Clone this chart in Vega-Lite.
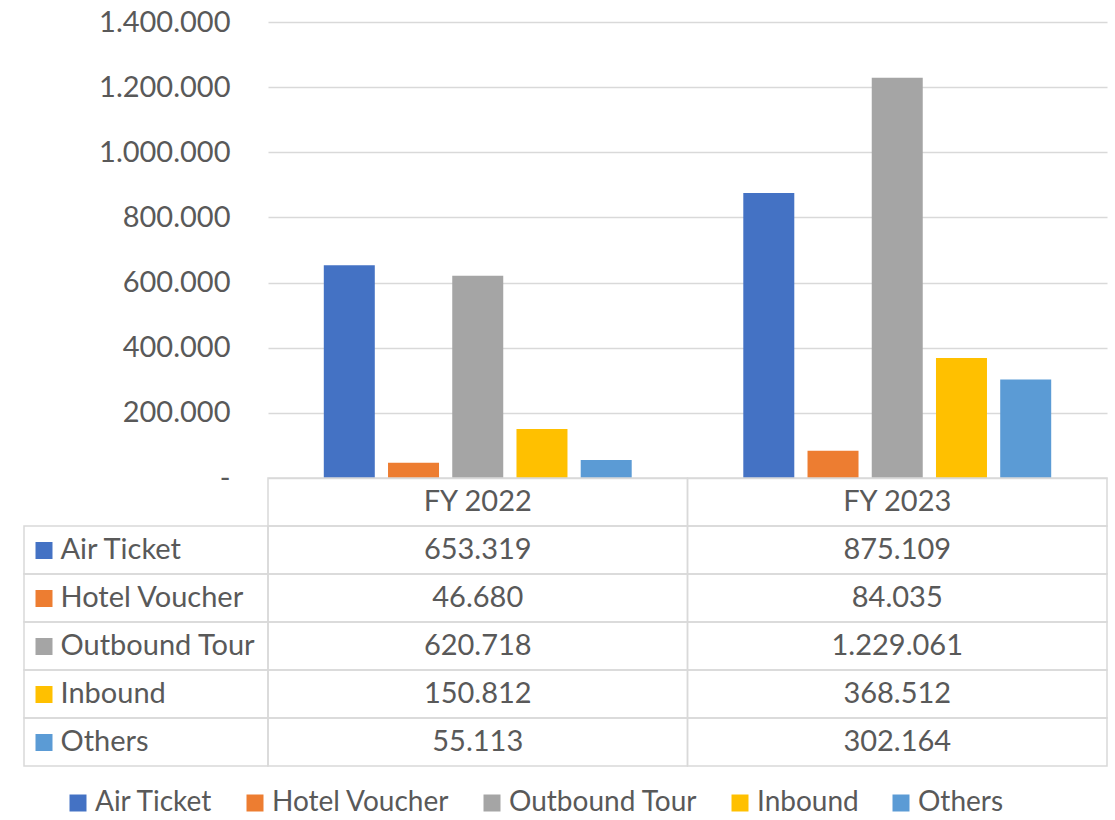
{
  "$schema": "https://vega.github.io/schema/vega-lite/v6.json",
  "padding": {"left": 23, "top": 8, "right": 5, "bottom": 0},
  "config": {
    "font": "Lato",
    "locale": {"number": {"decimal": ",", "thousands": ".", "grouping": [3], "currency": ["", ""]}},
    "view": {"stroke": null}
  },
  "datasets": {
    "sales": [
      {"year": "FY 2022", "series": "Air Ticket", "value": 653319},
      {"year": "FY 2022", "series": "Hotel Voucher", "value": 46680},
      {"year": "FY 2022", "series": "Outbound Tour", "value": 620718},
      {"year": "FY 2022", "series": "Inbound", "value": 150812},
      {"year": "FY 2022", "series": "Others", "value": 55113},
      {"year": "FY 2023", "series": "Air Ticket", "value": 875109},
      {"year": "FY 2023", "series": "Hotel Voucher", "value": 84035},
      {"year": "FY 2023", "series": "Outbound Tour", "value": 1229061},
      {"year": "FY 2023", "series": "Inbound", "value": 368512},
      {"year": "FY 2023", "series": "Others", "value": 302164}
    ]
  },
  "columns": 2,
  "spacing": 0,
  "bounds": "flush",
  "align": "each",
  "resolve": {
    "scale": {"x": "independent", "y": "independent", "color": "independent"},
    "axis": {"x": "independent", "y": "independent"},
    "legend": {"color": "independent"}
  },
  "concat": [
    {
      "width": 244,
      "height": 456,
      "data": {"values": []},
      "mark": "text",
      "encoding": {}
    },
    {
      "width": 839,
      "height": 456,
      "data": {"name": "sales"},
      "mark": {"type": "bar"},
      "encoding": {
        "x": {"field": "year", "type": "nominal", "scale": {"paddingInner": 0.266, "paddingOuter": 0.133}, "axis": null},
        "xOffset": {"field": "series", "type": "nominal", "sort": ["Air Ticket", "Hotel Voucher", "Outbound Tour", "Inbound", "Others"], "scale": {"paddingInner": 0.206, "paddingOuter": 0}},
        "y": {
          "field": "value", "type": "quantitative",
          "scale": {"domain": [0, 1400000], "nice": false},
          "axis": {
            "values": [0, 200000, 400000, 600000, 800000, 1000000, 1200000, 1400000],
            "format": ",.0f",
            "labelExpr": "datum.value === 0 ? '-' : datum.label",
            "grid": true, "gridColor": "#d9d9d9", "gridWidth": 1.5,
            "domain": false, "ticks": false,
            "labelPadding": 38, "labelFontSize": 29, "labelColor": "#595959",
            "title": null
          }
        },
        "color": {
          "field": "series", "type": "nominal",
          "scale": {
            "domain": ["Air Ticket", "Hotel Voucher", "Outbound Tour", "Inbound", "Others"],
            "range": ["#4472C4", "#ED7D31", "#A5A5A5", "#FFC000", "#5B9BD5"]
          },
          "legend": {
            "orient": "none", "direction": "horizontal",
            "legendX": -204, "legendY": 767,
            "title": null,
            "symbolType": "square", "symbolSize": 289, "symbolStrokeWidth": 0,
            "labelFontSize": 28, "labelColor": "#595959", "labelOffset": 3,
            "columnPadding": 28, "labelLimit": 400
          }
        }
      }
    },
    {
      "width": 244,
      "height": 288,
      "data": {"name": "sales"},
      "transform": [{"filter": "datum.year === 'FY 2022'"}],
      "mark": {"type": "rect", "fill": "transparent", "stroke": "#d9d9d9", "strokeWidth": 1.5},
      "encoding": {
        "y": {
          "field": "series", "type": "nominal",
          "scale": {"domain": ["hdr", "Air Ticket", "Hotel Voucher", "Outbound Tour", "Inbound", "Others"], "paddingInner": 0, "paddingOuter": 0},
          "axis": {
            "orient": "left", "domain": false, "grid": false,
            "offset": -11,
            "ticks": true, "tickSize": -17, "tickWidth": 17, "tickCap": "butt",
            "tickColor": {
              "condition": [
                {"test": "datum.value === 'Air Ticket'", "value": "#4472C4"},
                {"test": "datum.value === 'Hotel Voucher'", "value": "#ED7D31"},
                {"test": "datum.value === 'Outbound Tour'", "value": "#A5A5A5"},
                {"test": "datum.value === 'Inbound'", "value": "#FFC000"},
                {"test": "datum.value === 'Others'", "value": "#5B9BD5"}
              ],
              "value": "transparent"
            },
            "labelExpr": "datum.value === 'hdr' ? '' : datum.value",
            "labelAlign": "left", "labelBaseline": "middle",
            "labelPadding": -8, "labelFontSize": 29, "labelColor": "#595959", "labelLimit": 400,
            "title": null
          }
        }
      }
    },
    {
      "width": 839,
      "height": 288,
      "data": {"name": "sales"},
      "encoding": {
        "x": {"field": "year", "type": "nominal", "scale": {"paddingInner": 0, "paddingOuter": 0}, "axis": null}
      },
      "layer": [
        {
          "mark": {"type": "rect", "fill": "transparent", "stroke": "#d9d9d9", "strokeWidth": 1.5},
          "encoding": {
            "y": {"field": "series", "type": "nominal", "scale": {"domain": ["hdr", "Air Ticket", "Hotel Voucher", "Outbound Tour", "Inbound", "Others"], "paddingInner": 0, "paddingOuter": 0}, "axis": null}
          }
        },
        {
          "mark": {"type": "text", "fontSize": 29, "color": "#595959"},
          "encoding": {
            "y": {"field": "series", "type": "nominal", "axis": null},
            "text": {"field": "value", "type": "quantitative", "format": ",.0f"}
          }
        },
        {
          "transform": [{"aggregate": [{"op": "count", "as": "n"}], "groupby": ["year"]}],
          "layer": [
            {
              "mark": {"type": "rect", "fill": "transparent", "stroke": "#d9d9d9", "strokeWidth": 1.5},
              "encoding": {"y": {"datum": "hdr", "type": "nominal", "axis": null}}
            },
            {
              "mark": {"type": "text", "fontSize": 29, "color": "#595959"},
              "encoding": {
                "y": {"datum": "hdr", "type": "nominal", "axis": null},
                "text": {"field": "year", "type": "nominal"}
              }
            }
          ]
        }
      ]
    }
  ]
}
